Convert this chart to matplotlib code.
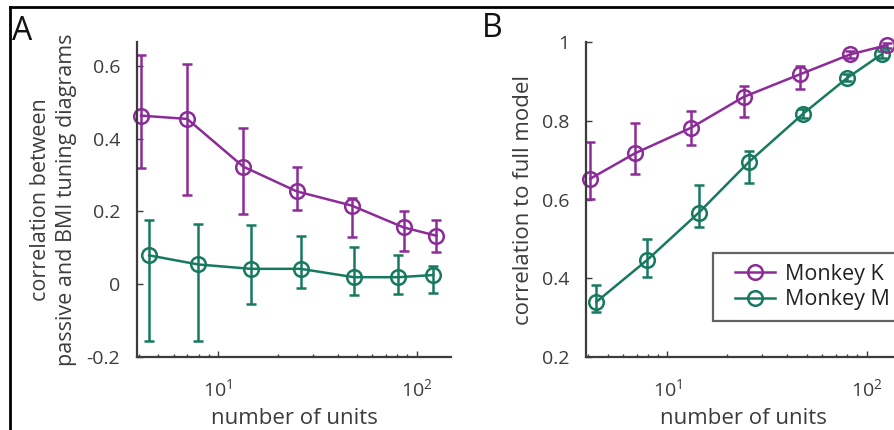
import numpy as np
import matplotlib
matplotlib.use("Agg")
import matplotlib.pyplot as plt
from matplotlib.lines import Line2D
from matplotlib.legend_handler import HandlerLine2D
from matplotlib.ticker import LogLocator, NullFormatter

plt.rcParams['font.family'] = ['Open Sans', 'DejaVu Sans']
plt.rcParams['mathtext.fontset'] = 'custom'
plt.rcParams['mathtext.rm'] = 'Open Sans'
plt.rcParams['mathtext.it'] = 'Open Sans'
plt.rcParams['mathtext.bf'] = 'Open Sans'

# ---- data ----
# panel A: correlation between passive and BMI tuning diagrams
units_k_a = [4.1, 7.0, 13.4, 24.9, 47.1, 86, 126]
corr_k_a = [0.463, 0.454, 0.323, 0.255, 0.216, 0.156, 0.133]
lo_k_a = [0.319, 0.246, 0.193, 0.203, 0.129, 0.090, 0.088]
hi_k_a = [0.631, 0.606, 0.428, 0.321, 0.236, 0.202, 0.175]

units_m_a = [4.5, 7.96, 14.7, 26.1, 48.4, 81, 121]
corr_m_a = [0.079, 0.054, 0.042, 0.042, 0.019, 0.019, 0.025]
lo_m_a = [-0.156, -0.156, -0.054, -0.012, -0.030, -0.027, -0.025]
hi_m_a = [0.175, 0.164, 0.162, 0.132, 0.102, 0.079, 0.051]

# panel B: correlation to full model
units_k_b = [4.1, 6.9, 13.1, 24.2, 46.2, 83, 126]
corr_k_b = [0.653, 0.718, 0.782, 0.861, 0.918, 0.969, 0.992]
lo_k_b = [0.602, 0.665, 0.738, 0.810, 0.882, 0.960, 0.985]
hi_k_b = [0.746, 0.795, 0.826, 0.888, 0.939, 0.978, 0.999]

units_m_b = [4.4, 7.9, 14.4, 25.6, 48, 80, 119]
corr_m_b = [0.340, 0.446, 0.567, 0.695, 0.818, 0.909, 0.969]
lo_m_b = [0.315, 0.404, 0.531, 0.642, 0.806, 0.900, 0.960]
hi_m_b = [0.384, 0.499, 0.637, 0.723, 0.830, 0.918, 0.978]

purple = '#8d2b99'
green = '#17795f'
grey = '#3c3c3c'

fig = plt.figure(figsize=(8.94, 4.30), dpi=100)
ax_a = fig.add_axes([0.153, 0.170, 0.352, 0.732])
ax_b = fig.add_axes([0.6555, 0.170, 0.353, 0.732])


def draw_series(ax, x, y, lo, hi, color):
    y = np.array(y)
    err = [y - np.array(lo), np.array(hi) - y]
    ax.errorbar(x, y, yerr=err, color=color, lw=1.8, elinewidth=1.8,
                capsize=3.3, capthick=1.8, marker='o', ms=10.5,
                mfc='none', mec=color, mew=1.8, clip_on=False)


def style_axis(ax):
    ax.set_xscale('log')
    ax.set_xlim(3.9, 150)
    for s in ['top', 'right']:
        ax.spines[s].set_visible(False)
    for s in ['left', 'bottom']:
        ax.spines[s].set_color(grey)
        ax.spines[s].set_linewidth(1.6)
    ax.xaxis.set_major_locator(LogLocator(base=10, numticks=5))
    ax.xaxis.set_minor_locator(LogLocator(base=10, subs=np.arange(2, 10), numticks=20))
    ax.xaxis.set_minor_formatter(NullFormatter())
    ax.tick_params(which='both', direction='in', colors=grey, labelsize=14, width=1.0)
    ax.tick_params(which='major', length=4)
    ax.tick_params(which='minor', length=2.5)
    ax.tick_params(axis='y', pad=12)
    ax.tick_params(axis='x', pad=15)
    ax.set_xlabel('number of units', fontsize=16, color=grey, labelpad=6)


draw_series(ax_a, units_m_a, corr_m_a, lo_m_a, hi_m_a, green)
draw_series(ax_a, units_k_a, corr_k_a, lo_k_a, hi_k_a, purple)
style_axis(ax_a)
ax_a.set_ylim(-0.2, 0.665)
ax_a.set_yticks([-0.2, 0, 0.2, 0.4, 0.6])
ax_a.set_yticklabels(['-0.2', '0', '0.2', '0.4', '0.6'])
ax_a.set_ylabel('correlation between\npassive and BMI tuning diagrams',
                fontsize=15.5, color=grey, labelpad=7, linespacing=1.3)

draw_series(ax_b, units_m_b, corr_m_b, lo_m_b, hi_m_b, green)
draw_series(ax_b, units_k_b, corr_k_b, lo_k_b, hi_k_b, purple)
style_axis(ax_b)
ax_b.set_ylim(0.2, 1.0)
ax_b.set_yticks([0.2, 0.4, 0.6, 0.8, 1.0])
ax_b.set_yticklabels(['0.2', '0.4', '0.6', '0.8', '1'])
ax_b.set_ylabel('correlation to full model', fontsize=16, color=grey, labelpad=6)

handles = [Line2D([], [], color=purple, lw=1.8, marker='o', ms=10.5, mfc='none', mew=1.8),
           Line2D([], [], color=green, lw=1.8, marker='o', ms=10.5, mfc='none', mew=1.8)]
leg = ax_b.legend(handles, ['Monkey K', 'Monkey M'], loc='upper left',
                  bbox_to_anchor=(0.402, 0.330), fontsize=15.5, frameon=True,
                  fancybox=False, edgecolor=grey, handlelength=2.4,
                  borderpad=0.5, labelspacing=0.2, handletextpad=0.45,
                  borderaxespad=0,
                  handler_map={Line2D: HandlerLine2D(xpad=0.52)})
leg.get_frame().set_linewidth(1.6)
for t in leg.get_texts():
    t.set_color('#222222')

# panel letters
fig.text(0.013, 0.965, 'A', fontsize=23, va='top', ha='left', color='#111111')
fig.text(0.539, 0.972, 'B', fontsize=23, va='top', ha='left', color='#111111')

# outer frame (top and left edges visible in the crop)
fig.add_artist(Line2D([10 / 894, 1.0], [1 - 7 / 430, 1 - 7 / 430],
                      transform=fig.transFigure, color='black', lw=2))
fig.add_artist(Line2D([10 / 894, 10 / 894], [0, 1 - 7 / 430],
                      transform=fig.transFigure, color='black', lw=2))

fig.savefig('out.png', dpi=100)
